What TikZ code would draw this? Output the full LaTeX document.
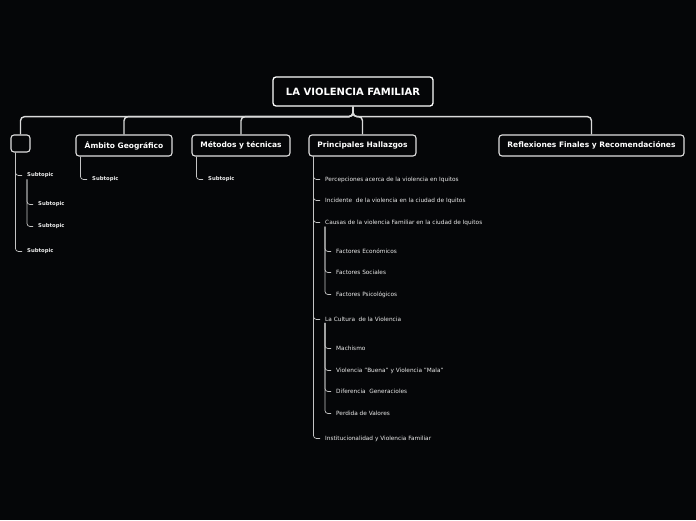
\documentclass[tikz,border=0pt]{standalone}
\usepackage{fontspec}
\setmainfont{DejaVu Sans}
\usetikzlibrary{positioning}
\definecolor{bgdark}{HTML}{050608}
\definecolor{linegray}{HTML}{DADADA}

\begin{document}
\begin{tikzpicture}[
    x=1pt, y=-1pt,
    roottopic/.style={rectangle, rounded corners=3pt, draw=white, line width=1.3pt, fill=bgdark, text=white, font=\bfseries\fontsize{10}{12}\selectfont, minimum width=160pt, minimum height=29pt, inner sep=2pt},
    maintopic/.style={rectangle, rounded corners=3pt, draw=white!88!black, line width=1.1pt, fill=bgdark, text=white, font=\bfseries\fontsize{7.5}{9}\selectfont, minimum height=21pt, inner sep=2pt},
    subtopic/.style={anchor=west, text=white!92!black, font=\fontsize{5.8}{7}\selectfont, inner xsep=5pt, inner ysep=1pt},
    blanksub/.style={subtopic, font=\bfseries\fontsize{5.3}{7}\selectfont},
    trunk/.style={draw=linegray, line width=1.4pt, rounded corners=4pt},
    branch/.style={draw=linegray!90!black, line width=0.7pt, rounded corners=3pt}
]

\fill[bgdark] (0,0) rectangle (696,520);

% central and main topics
\node (root) [roottopic] at (353,91.5) {LA VIOLENCIA FAMILIAR};
\node (blank) [maintopic, minimum width=19pt, minimum height=17pt] at (20.5,143.5) {};
\node (amb) [maintopic, minimum width=96pt] at (124,145.5) {Ámbito Geográfico};
\node (met) [maintopic, minimum width=98pt] at (241,145.5) {Métodos y técnicas};
\node (hall) [maintopic, minimum width=107pt] at (362.5,145.5) {Principales Hallazgos};
\node (refl) [maintopic, minimum width=185pt] at (591.5,145.5) {Reflexiones Finales y Recomendaciónes};

\draw [trunk] (root.south) -- ++(0,10) -| (blank.north);
\draw [trunk] (root.south) -- ++(0,10) -| (amb.north);
\draw [trunk] (root.south) -- ++(0,10) -| (met.north);
\draw [trunk] (root.south) -- ++(0,10) -| (hall.north);
\draw [trunk] (root.south) -- ++(0,10) -| (refl.north);

% subtopics of the blank topic
\node (bs1) [blanksub] at (22,175.5) {Subtopic};
\node (bs2) [blanksub] at (33,204.5) {Subtopic};
\node (bs3) [blanksub] at (33,226.5) {Subtopic};
\node (bs4) [blanksub] at (22,251.5) {Subtopic};

\draw [branch] ([xshift=5pt]blank.south west) |- (bs1.west);
\draw [branch] ([xshift=5pt]blank.south west) |- (bs4.west);
\draw [branch] ([xshift=5pt]bs1.south west) |- (bs2.west);
\draw [branch] ([xshift=5pt]bs1.south west) |- (bs3.west);

\node (as1) [blanksub] at (87,179.5) {Subtopic};
\draw [branch] ([xshift=5pt]amb.south west) |- (as1.west);

\node (ms1) [blanksub] at (203,179.5) {Subtopic};
\draw [branch] ([xshift=5pt]met.south west) |- (ms1.west);

% Principales Hallazgos
\node (h1) [subtopic] at (320,179.5) {Percepciones acerca de la violencia en Iquitos};
\node (h2) [subtopic] at (320,200.5) {Incidente\ \ de la violencia en la ciudad de Iquitos};
\node (h3) [subtopic] at (320,222.5) {Causas de la violencia Familiar en la ciudad de Iquitos};
\node (h3a) [subtopic] at (331,251.5) {Factores Económicos};
\node (h3b) [subtopic] at (331,272.5) {Factores Sociales};
\node (h3c) [subtopic] at (331,294.5) {Factores Psicológicos};
\node (h4) [subtopic] at (320,319.5) {La Cultura\ \ de la Violencia};
\node (h4a) [subtopic] at (331,348.5) {Machismo};
\node (h4b) [subtopic] at (331,370.5) {Violencia "Buena" y Violencia "Mala"};
\node (h4c) [subtopic] at (331,391.5) {Diferencia\ \ Generacioles};
\node (h4d) [subtopic] at (331,413.5) {Perdida de Valores};
\node (h5) [subtopic] at (320,438.5) {Institucionalidad y Violencia Familiar};

\coordinate (hallstem) at ([xshift=5pt]hall.south west);
\foreach \c in {h1,h2,h3,h4,h5}
    \draw [branch] (hallstem) |- (\c.west);
\foreach \c in {h3a,h3b,h3c}
    \draw [branch] ([xshift=5pt]h3.south west) |- (\c.west);
\foreach \c in {h4a,h4b,h4c,h4d}
    \draw [branch] ([xshift=5pt]h4.south west) |- (\c.west);

\end{tikzpicture}
\end{document}
